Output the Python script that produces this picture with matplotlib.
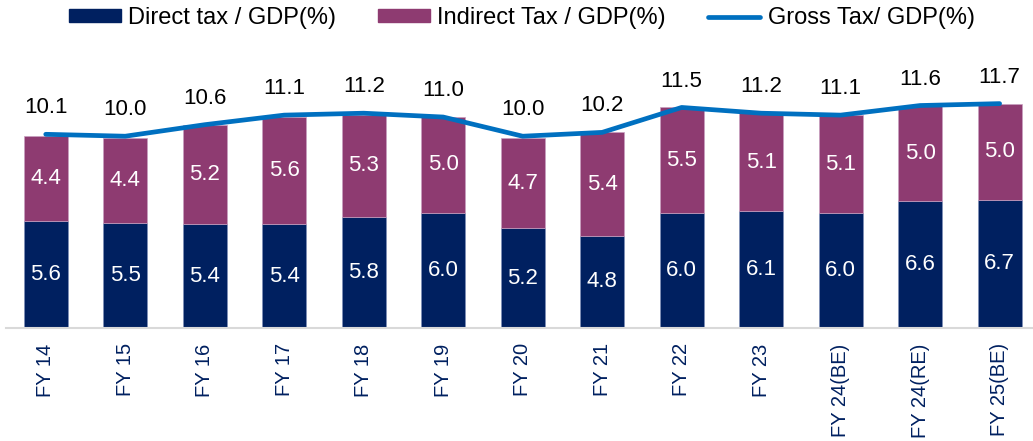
import matplotlib
matplotlib.use("Agg")
import matplotlib.pyplot as plt
from matplotlib.patches import Patch
from matplotlib.lines import Line2D

plt.rcParams['font.family'] = ['Liberation Sans', 'DejaVu Sans']

categories = ["FY 14", "FY 15", "FY 16", "FY 17", "FY 18", "FY 19", "FY 20",
              "FY 21", "FY 22", "FY 23", "FY 24(BE)", "FY 24(RE)", "FY 25(BE)"]
direct = [5.6, 5.5, 5.4, 5.4, 5.8, 6.0, 5.2, 4.8, 6.0, 6.1, 6.0, 6.6, 6.7]
indirect = [4.4, 4.4, 5.2, 5.6, 5.3, 5.0, 4.7, 5.4, 5.5, 5.1, 5.1, 5.0, 5.0]
gross = [10.1, 10.0, 10.6, 11.1, 11.2, 11.0, 10.0, 10.2, 11.5, 11.2, 11.1, 11.6, 11.7]

navy = "#002060"
purple = "#8E3B71"
blue = "#0070C0"

fig = plt.figure(figsize=(10.33, 4.41), dpi=100)
ax = fig.add_axes([6/1033, (441-328)/441, 1 - 6/1033, (328-48)/441])

x = list(range(len(categories)))
w = 0.555
ax.bar(x, direct, width=w, color=navy, edgecolor="#8090b8", linewidth=0.5, zorder=2)
ax.bar(x, indirect, width=w, bottom=direct, color=purple, edgecolor="#c8a0c0", linewidth=0.5, zorder=2)
ax.plot(x, gross, color=blue, linewidth=3.4, solid_capstyle='round', zorder=3)

for i in x:
    ax.text(i, direct[i] / 2, f"{direct[i]:.1f}", ha="center", va="center",
            color="white", fontsize=16, zorder=4)
    ax.text(i, direct[i] + indirect[i] / 2, f"{indirect[i]:.1f}", ha="center", va="center",
            color="white", fontsize=16, zorder=4)
    ax.annotate(f"{gross[i]:.1f}", (i, gross[i]), xytext=(0, 19), textcoords="offset points",
                ha="center", va="center", fontsize=16, color="black", zorder=4)

ax.set_xlim(-0.5, 12.42)
ax.set_ylim(0, 14.6)
ax.set_xticks(x)
ax.set_xticklabels(categories, rotation=90, fontsize=14.5, color=navy)
ax.tick_params(axis='x', length=0, pad=11)
ax.set_yticks([])
for s in ["top", "right", "left"]:
    ax.spines[s].set_visible(False)
ax.spines["bottom"].set_color("#d9d9d9")
ax.spines["bottom"].set_linewidth(1.5)

handles = [Patch(facecolor=navy, edgecolor=navy),
           Patch(facecolor=purple, edgecolor=purple),
           Line2D([0], [0], color=blue, linewidth=3.4, solid_capstyle='round')]
labels = ["Direct tax / GDP(%)", "Indirect Tax / GDP(%)", "Gross Tax/ GDP(%)"]
fig.legend(handles, labels, loc="center", bbox_to_anchor=(0.505, 1 - 18/441), ncol=3,
           frameon=False, fontsize=17, handlelength=2.2, handleheight=0.45,
           handletextpad=0.3, columnspacing=1.8, borderpad=0)

fig.savefig("out.png", dpi=100)
